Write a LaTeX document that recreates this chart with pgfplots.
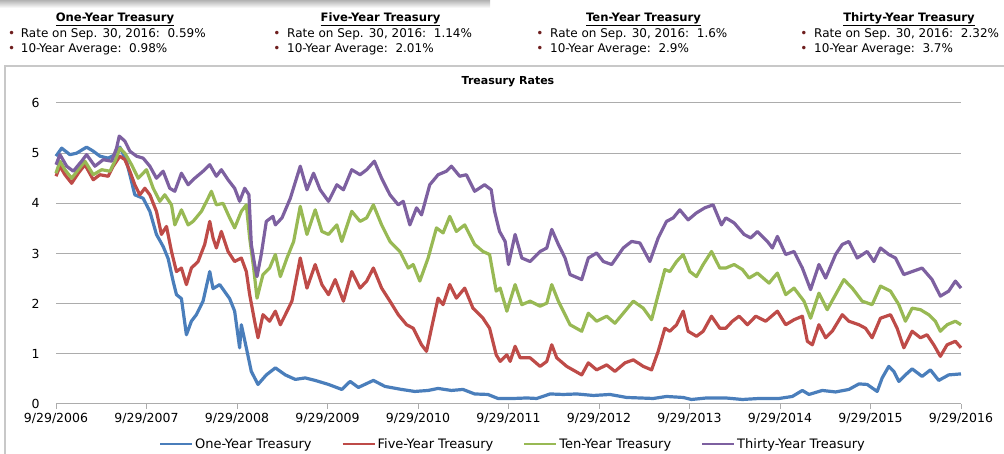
\documentclass[border=0pt]{standalone}
\usepackage{pgfplots}
\pgfplotsset{compat=1.18}
\usepackage{fontspec}
\setmainfont{DejaVu Sans}
\definecolor{cblue}{HTML}{4A7EBB}
\definecolor{cred}{HTML}{BE4B48}
\definecolor{cgreen}{HTML}{98B954}
\definecolor{cpurple}{HTML}{7D60A0}
\definecolor{gridc}{RGB}{172,172,172}
\definecolor{framec}{RGB}{200,200,200}
\definecolor{bulc}{HTML}{6E1E1E}
\newcommand{\hdr}{\fontsize{12}{14}\selectfont}
\newcommand{\hdb}{\bfseries\fontsize{11.6}{14}\selectfont}
\begin{document}
\begin{tikzpicture}[x=1pt,y=1pt]
\path[use as bounding box] (0,0) rectangle (1004,454);
\shade[top color=black!30, bottom color=white] (0,446) rectangle (490,454);
\draw[framec, line width=1.3pt] (5,-5) -- (5,388) -- (1010,388);
% header titles
\node[font=\hdb, anchor=base] at (115,432.7) {\underline{One-Year Treasury}};
\node[font=\hdb, anchor=base] at (380.5,432.7) {\underline{Five-Year Treasury}};
\node[font=\hdb, anchor=base] at (643.5,432.7) {\underline{Ten-Year Treasury}};
\node[font=\hdb, anchor=base] at (909,432.7) {\underline{Thirty-Year Treasury}};
% bullets
\foreach \bx in {11.7,277,540,804}{
  \node[font=\fontsize{12}{14}\selectfont, text=bulc, anchor=base] at (\bx,416.6) {•};
  \node[font=\fontsize{12}{14}\selectfont, text=bulc, anchor=base] at (\bx,401.6) {•};
}
\node[font=\hdr, anchor=base west, inner sep=0] at (20.7,416.6) {Rate on Sep. 30, 2016:\ \ 0.59\%};
\node[font=\hdr, anchor=base west, inner sep=0] at (20.7,401.6) {10-Year Average:\ \ 0.98\%};
\node[font=\hdr, anchor=base west, inner sep=0] at (287,416.6) {Rate on Sep. 30, 2016:\ \ 1.14\%};
\node[font=\hdr, anchor=base west, inner sep=0] at (287,401.6) {10-Year Average:\ \ 2.01\%};
\node[font=\hdr, anchor=base west, inner sep=0] at (550,416.6) {Rate on Sep. 30, 2016:\ \ 1.6\%};
\node[font=\hdr, anchor=base west, inner sep=0] at (550,401.6) {10-Year Average:\ \ 2.9\%};
\node[font=\hdr, anchor=base west, inner sep=0] at (814,416.6) {Rate on Sep. 30, 2016:\ \ 2.32\%};
\node[font=\hdr, anchor=base west, inner sep=0] at (814,401.6) {10-Year Average:\ \ 3.7\%};
% chart title
\node[font=\bfseries\fontsize{11}{13}\selectfont] at (508,372) {Treasury Rates};
\begin{axis}[
  at={(56pt,50pt)}, anchor=south west,
  scale only axis, width=905pt, height=301pt,
  xmin=0, xmax=10, ymin=0, ymax=6,
  axis x line*=bottom, axis y line*=left,
  y axis line style={draw=none},
  x axis line style={draw=gridc, line width=1pt, -},
  xtick={0,1,2,3,4,5,6,7,8,9,10},
  xticklabels={9/29/2006,9/29/2007,9/29/2008,9/29/2009,9/29/2010,9/29/2011,9/29/2012,9/29/2013,9/29/2014,9/29/2015,9/29/2016},
  ytick={0,1,2,3,4,5,6},
  yticklabels={0,1,2,3,4,5,6},
  tick align=outside,
  major tick length=5pt,
  xtick style={draw=gridc, line width=1pt},
  ytick style={draw=none},
  ymajorgrids,
  grid style={draw=gridc, line width=1pt},
  ticklabel style={font=\fontsize{12.5}{14}\selectfont},
  yticklabel style={xshift=-8pt},
  xticklabel style={yshift=-1pt},
  clip=false,
  legend style={at={(0.505,-0.133)}, anchor=center, draw=none, fill=none,
    legend columns=4, font=\fontsize{13}{15}\selectfont,
    /tikz/every even column/.append style={column sep=28pt},
    inner sep=0pt},
  legend image code/.code={\draw[#1,line width=2pt] (0pt,0pt) -- (32pt,0pt);},
  every axis plot/.append style={line width=3.2pt, line join=round, no markers},
]
\addplot[cblue] coordinates {
(0,4.94) (0.063,5.10) (0.154,4.97) (0.228,5.00) (0.338,5.12) (0.412,5.04) (0.485,4.94) (0.577,4.90) (0.651,4.97) (0.706,5.12) (0.779,4.84) (0.871,4.17) (0.963,4.10) (1.037,3.84) (1.110,3.38) (1.184,3.14) (1.239,2.90) (1.294,2.45) (1.331,2.18) (1.386,2.10) (1.441,1.38) (1.496,1.65) (1.551,1.78) (1.625,2.05) (1.699,2.64) (1.735,2.30) (1.809,2.38) (1.919,2.10) (1.974,1.85) (2.029,1.12) (2.048,1.58) (2.103,1.12) (2.158,0.65) (2.232,0.39) (2.324,0.58) (2.424,0.72) (2.534,0.58) (2.644,0.49) (2.754,0.52) (2.864,0.47) (3.011,0.39) (3.158,0.29) (3.250,0.45) (3.341,0.33) (3.507,0.47) (3.635,0.35) (3.819,0.29) (3.965,0.25) (4.112,0.27) (4.222,0.31) (4.369,0.27) (4.497,0.29) (4.626,0.20) (4.773,0.19) (4.883,0.11) (5.055,0.11) (5.202,0.12) (5.312,0.11) (5.460,0.20) (5.607,0.19) (5.754,0.20) (5.938,0.17) (6.121,0.19) (6.305,0.13) (6.452,0.12) (6.599,0.11) (6.746,0.15) (6.930,0.13) (7.022,0.09) (7.187,0.12) (7.401,0.12) (7.585,0.09) (7.769,0.11) (7.989,0.11) (8.136,0.15) (8.247,0.27) (8.320,0.19) (8.467,0.27) (8.614,0.24) (8.761,0.29) (8.872,0.40) (8.963,0.39) (9.018,0.32) (9.074,0.25) (9.129,0.52) (9.202,0.75) (9.258,0.65) (9.313,0.45) (9.386,0.58) (9.460,0.70) (9.570,0.55) (9.662,0.68) (9.754,0.47) (9.864,0.58) (10.0,0.60)
};
\addlegendentry{One-Year Treasury}
\addplot[cred] coordinates {
(0,4.54) (0.044,4.74) (0.099,4.57) (0.173,4.40) (0.246,4.60) (0.320,4.77) (0.412,4.47) (0.485,4.57) (0.577,4.54) (0.632,4.74) (0.706,4.94) (0.761,4.87) (0.816,4.64) (0.871,4.37) (0.926,4.17) (0.982,4.30) (1.037,4.17) (1.110,3.84) (1.165,3.38) (1.221,3.54) (1.276,3.04) (1.331,2.64) (1.386,2.71) (1.441,2.38) (1.496,2.71) (1.570,2.84) (1.643,3.18) (1.699,3.64) (1.735,3.31) (1.772,3.11) (1.827,3.44) (1.901,3.04) (1.974,2.84) (2.048,2.91) (2.103,2.64) (2.140,2.18) (2.195,1.65) (2.232,1.32) (2.287,1.78) (2.360,1.65) (2.424,1.85) (2.479,1.58) (2.534,1.78) (2.607,2.05) (2.699,2.91) (2.773,2.31) (2.864,2.78) (2.938,2.38) (3.011,2.18) (3.085,2.48) (3.176,2.05) (3.268,2.64) (3.360,2.31) (3.433,2.45) (3.507,2.71) (3.598,2.31) (3.690,2.05) (3.782,1.78) (3.874,1.58) (3.947,1.51) (4.039,1.18) (4.094,1.05) (4.149,1.51) (4.222,2.11) (4.277,1.98) (4.351,2.38) (4.424,2.11) (4.516,2.31) (4.607,1.91) (4.718,1.71) (4.791,1.51) (4.864,0.98) (4.908,0.85) (4.982,0.98) (5.018,0.85) (5.073,1.15) (5.129,0.92) (5.239,0.92) (5.349,0.75) (5.423,0.85) (5.478,1.18) (5.533,0.92) (5.643,0.75) (5.809,0.58) (5.882,0.82) (5.974,0.68) (6.085,0.78) (6.176,0.65) (6.287,0.82) (6.379,0.88) (6.489,0.75) (6.581,0.68) (6.654,1.05) (6.728,1.51) (6.783,1.45) (6.857,1.58) (6.930,1.85) (6.985,1.45) (7.077,1.35) (7.151,1.45) (7.243,1.75) (7.335,1.51) (7.401,1.51) (7.474,1.65) (7.548,1.75) (7.640,1.58) (7.732,1.75) (7.842,1.65) (7.971,1.85) (8.063,1.58) (8.155,1.68) (8.247,1.75) (8.302,1.25) (8.357,1.18) (8.430,1.58) (8.504,1.32) (8.577,1.45) (8.688,1.78) (8.761,1.65) (8.872,1.58) (8.945,1.51) (9.018,1.32) (9.110,1.71) (9.221,1.78) (9.294,1.51) (9.368,1.12) (9.460,1.45) (9.552,1.32) (9.625,1.38) (9.699,1.18) (9.772,0.95) (9.846,1.18) (9.938,1.25) (10.0,1.12)
};
\addlegendentry{Five-Year Treasury}
\addplot[cgreen] coordinates {
(0,4.60) (0.044,4.84) (0.099,4.67) (0.173,4.50) (0.246,4.67) (0.320,4.84) (0.412,4.57) (0.504,4.67) (0.596,4.64) (0.651,4.84) (0.706,5.10) (0.761,5.00) (0.835,4.77) (0.908,4.50) (1.000,4.67) (1.074,4.30) (1.147,4.04) (1.202,4.17) (1.276,3.97) (1.313,3.57) (1.386,3.87) (1.460,3.57) (1.515,3.64) (1.607,3.84) (1.680,4.10) (1.717,4.24) (1.772,3.97) (1.846,4.00) (1.919,3.71) (1.974,3.51) (2.048,3.84) (2.103,3.97) (2.140,3.31) (2.184,2.71) (2.221,2.11) (2.287,2.58) (2.360,2.71) (2.424,2.98) (2.479,2.54) (2.552,2.91) (2.626,3.24) (2.699,3.94) (2.773,3.38) (2.864,3.87) (2.938,3.44) (3.011,3.38) (3.103,3.57) (3.158,3.24) (3.268,3.84) (3.360,3.64) (3.433,3.71) (3.507,3.97) (3.598,3.57) (3.690,3.24) (3.800,3.04) (3.892,2.71) (3.947,2.78) (4.020,2.45) (4.112,2.91) (4.204,3.51) (4.277,3.41) (4.351,3.74) (4.424,3.44) (4.516,3.57) (4.626,3.18) (4.718,3.04) (4.791,2.98) (4.864,2.25) (4.908,2.31) (4.982,1.85) (5.073,2.38) (5.147,1.98) (5.239,2.05) (5.349,1.95) (5.423,2.01) (5.478,2.38) (5.551,2.05) (5.680,1.58) (5.809,1.45) (5.882,1.81) (5.974,1.65) (6.085,1.75) (6.176,1.61) (6.287,1.85) (6.379,2.05) (6.489,1.91) (6.581,1.68) (6.654,2.18) (6.728,2.68) (6.783,2.64) (6.857,2.84) (6.930,2.98) (7.004,2.64) (7.077,2.54) (7.151,2.78) (7.243,3.04) (7.335,2.71) (7.401,2.71) (7.493,2.78) (7.585,2.68) (7.658,2.51) (7.750,2.61) (7.879,2.41) (7.971,2.61) (8.063,2.18) (8.155,2.31) (8.265,2.05) (8.338,1.71) (8.430,2.21) (8.522,1.88) (8.614,2.18) (8.706,2.48) (8.798,2.31) (8.908,2.05) (9.018,1.98) (9.110,2.35) (9.221,2.25) (9.313,1.98) (9.386,1.65) (9.460,1.91) (9.552,1.88) (9.643,1.78) (9.717,1.65) (9.772,1.45) (9.846,1.58) (9.938,1.65) (10.0,1.58)
};
\addlegendentry{Ten-Year Treasury}
\addplot[cpurple] coordinates {
(0,4.77) (0.044,4.97) (0.118,4.74) (0.191,4.64) (0.283,4.84) (0.338,4.97) (0.430,4.74) (0.522,4.87) (0.614,4.84) (0.669,5.10) (0.699,5.34) (0.761,5.24) (0.816,5.04) (0.890,4.94) (0.963,4.90) (1.037,4.74) (1.110,4.50) (1.184,4.64) (1.257,4.30) (1.313,4.24) (1.386,4.60) (1.460,4.37) (1.533,4.50) (1.625,4.64) (1.699,4.77) (1.772,4.54) (1.827,4.67) (1.901,4.47) (1.974,4.30) (2.029,4.04) (2.085,4.30) (2.132,4.17) (2.158,3.18) (2.195,2.78) (2.221,2.54) (2.268,2.98) (2.324,3.64) (2.397,3.74) (2.424,3.57) (2.497,3.71) (2.589,4.10) (2.699,4.74) (2.773,4.27) (2.846,4.60) (2.919,4.27) (3.011,4.04) (3.103,4.37) (3.176,4.27) (3.268,4.67) (3.360,4.57) (3.433,4.67) (3.518,4.84) (3.598,4.50) (3.690,4.17) (3.782,3.97) (3.837,4.04) (3.910,3.57) (3.984,3.91) (4.039,3.77) (4.130,4.37) (4.222,4.57) (4.314,4.64) (4.369,4.74) (4.461,4.54) (4.534,4.57) (4.626,4.24) (4.736,4.37) (4.809,4.27) (4.846,3.84) (4.901,3.44) (4.963,3.24) (5.000,2.78) (5.073,3.38) (5.147,2.91) (5.239,2.84) (5.349,3.04) (5.423,3.11) (5.478,3.48) (5.551,3.18) (5.625,2.91) (5.680,2.58) (5.809,2.48) (5.882,2.91) (5.974,3.01) (6.048,2.84) (6.140,2.78) (6.268,3.11) (6.360,3.24) (6.452,3.21) (6.562,2.84) (6.654,3.31) (6.746,3.64) (6.820,3.71) (6.893,3.87) (6.985,3.67) (7.077,3.81) (7.169,3.91) (7.261,3.97) (7.353,3.57) (7.401,3.71) (7.493,3.61) (7.603,3.38) (7.677,3.31) (7.750,3.44) (7.861,3.24) (7.916,3.11) (7.971,3.34) (8.063,2.98) (8.155,3.04) (8.247,2.71) (8.338,2.28) (8.430,2.78) (8.504,2.51) (8.614,2.98) (8.688,3.18) (8.761,3.24) (8.853,2.91) (8.963,3.04) (9.037,2.84) (9.110,3.11) (9.202,2.98) (9.276,2.91) (9.368,2.58) (9.460,2.64) (9.570,2.71) (9.680,2.48) (9.772,2.15) (9.864,2.25) (9.938,2.45) (10.0,2.31)
};
\addlegendentry{Thirty-Year Treasury}
\end{axis}
\end{tikzpicture}
\end{document}
